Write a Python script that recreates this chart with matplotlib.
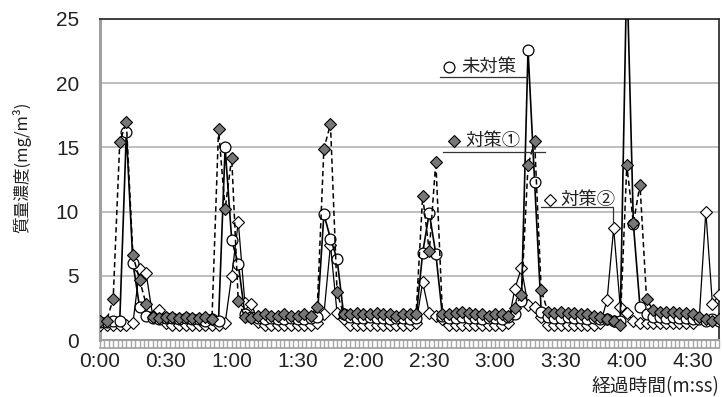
import numpy as np
import matplotlib
matplotlib.use("Agg")
import matplotlib.pyplot as plt
from matplotlib.ticker import MultipleLocator, FuncFormatter

# sampling times (seconds), one sample every 3 s
time_s = np.arange(0, 285, 3)

mitaisaku = [
    1.4, 1.4, 1.5, 1.5, 16.2, 6.0, 2.6, 1.9, 1.7, 1.6,
    1.7, 1.7, 1.6, 1.7, 1.6, 1.6, 1.5, 1.6, 1.5, 15.0,
    7.8, 5.9, 2.0, 1.8, 1.7, 1.6, 1.7, 1.6, 1.6, 1.7,
    1.6, 1.6, 1.7, 1.8, 9.8, 7.9, 6.3, 2.0, 1.8, 1.7,
    1.7, 1.8, 1.7, 1.7, 1.6, 1.7, 1.7, 1.6, 1.7, 6.8,
    9.9, 6.7, 1.9, 1.7, 1.7, 1.8, 1.7, 1.7, 1.6, 1.7,
    1.7, 1.6, 1.8, 2.0, 3.0, 22.6, 12.3, 2.2, 1.8, 1.7,
    1.7, 1.8, 1.7, 1.7, 1.6, 1.7, 1.6, 1.6, 1.5, 1.5,
    29.0, 9.0, 2.6, 2.0, 1.8, 1.8, 1.7, 1.8, 1.7, 1.7,
    1.6, 1.6, 1.5, 1.6, 1.5,
]

taisaku1 = [
    1.5, 1.5, 3.2, 15.4, 17.0, 6.6, 4.7, 2.8, 1.8, 1.7,
    1.8, 1.8, 1.7, 1.8, 1.7, 1.7, 1.8, 1.6, 16.4, 10.2,
    14.2, 3.0, 1.8, 1.7, 1.9, 2.0, 1.9, 1.9, 2.0, 1.9,
    1.9, 2.0, 1.9, 2.6, 14.9, 16.8, 3.7, 2.0, 2.0, 2.1,
    2.0, 2.0, 2.1, 2.0, 2.0, 1.9, 2.0, 2.0, 2.0, 11.2,
    6.9, 13.9, 2.0, 2.0, 2.1, 2.2, 2.1, 2.0, 2.0, 1.9,
    2.0, 2.0, 1.9, 2.5, 3.5, 13.6, 15.5, 3.9, 2.2, 2.1,
    2.2, 2.1, 2.1, 2.0, 2.0, 1.9, 1.8, 1.6, 1.5, 1.2,
    13.6, 9.1, 12.1, 3.2, 2.3, 2.2, 2.2, 2.2, 2.1, 2.1,
    2.0, 1.8, 1.6, 1.5, 1.6,
]

taisaku2 = [
    1.2, 1.2, 1.2, 1.2, 1.2, 1.3, 5.5, 5.2, 1.9, 2.3,
    1.3, 1.2, 1.2, 1.2, 1.2, 1.2, 1.2, 1.2, 1.2, 1.3,
    5.0, 9.2, 2.9, 2.8, 1.4, 1.2, 1.2, 1.2, 1.2, 1.2,
    1.2, 1.2, 1.2, 1.3, 2.0, 7.4, 2.1, 1.6, 1.2, 1.2,
    1.2, 1.2, 1.2, 1.2, 1.2, 1.2, 1.2, 1.2, 1.3, 4.5,
    2.1, 1.9, 1.6, 1.2, 1.2, 1.2, 1.2, 1.2, 1.2, 1.2,
    1.2, 1.2, 1.3, 4.0, 5.6, 2.7, 2.6, 1.8, 1.2, 1.2,
    1.2, 1.2, 1.2, 1.2, 1.2, 1.2, 1.3, 3.1, 8.7, 2.6,
    2.1, 1.5, 1.3, 1.3, 1.3, 1.3, 1.3, 1.3, 1.3, 1.3,
    1.3, 1.7, 10.0, 2.8, 3.5,
]

series_names = ["未対策", "対策①", "対策②"]
y_ticks = [0, 5, 10, 15, 20, 25]
y_label = "質量濃度(mg/m³)"
x_label = "経過時間(m:ss)"

CJK = ["Noto Sans CJK JP", "DejaVu Sans"]
NUM = ["Liberation Sans", "DejaVu Sans"]

styles = [
    dict(color="black", linewidth=1.2, marker="o", markersize=7.8,
         markerfacecolor="white", markeredgecolor="black", markeredgewidth=0.9),
    dict(color="black", linewidth=1.1, linestyle=(0, (3.5, 2.2)), marker="D",
         markersize=6.4, markerfacecolor="#777777", markeredgecolor="black",
         markeredgewidth=0.8),
    dict(color="black", linewidth=0.9, marker="D", markersize=6.4,
         markerfacecolor="white", markeredgecolor="black", markeredgewidth=0.8),
]

W, H = 723, 397
fig = plt.figure(figsize=(W / 100, H / 100), dpi=100)
L, R, T, B = 100, 719, 19, 340
ax = fig.add_axes([L / W, 1 - B / H, (R - L) / W, (B - T) / H])

ax.set_xlim(0, 282)
ax.set_ylim(0, 25)

# grid
ax.set_yticks(y_ticks)
ax.grid(axis="y", color="#b4b4b4", linewidth=1.2, zorder=0)
ax.set_axisbelow(True)

# series
ax.plot(time_s, taisaku2, zorder=3, **styles[2])
ax.plot(time_s, mitaisaku, zorder=4, **styles[0])
ax.plot(time_s, taisaku1, zorder=5, **styles[1])

# spines
ax.spines["left"].set_color("#a0a0a0")
ax.spines["left"].set_linewidth(2.2)
ax.spines["bottom"].set_color("#a0a0a0")
ax.spines["bottom"].set_linewidth(1.5)
ax.spines["top"].set_color("#333333")
ax.spines["top"].set_linewidth(1.3)
ax.spines["right"].set_color("#333333")
ax.spines["right"].set_linewidth(1.3)

# x ticks
ax.xaxis.set_major_locator(MultipleLocator(30))
ax.xaxis.set_minor_locator(MultipleLocator(2))
ax.xaxis.set_major_formatter(FuncFormatter(lambda v, p: f"{int(v)//60}:{int(v)%60:02d}"))
ax.tick_params(axis="x", which="both", direction="out", length=5.5,
               color="#a8a8a8", width=1.0)
ax.tick_params(axis="x", which="major", pad=3, labelsize=15)
ax.tick_params(axis="y", length=0, pad=15, labelsize=15)
for lab in ax.get_xticklabels() + ax.get_yticklabels():
    lab.set_family(NUM)
    lab.set_color("#222222")
# lower edge of the tick band
ax.plot([0, 1], [-0.025, -0.025], transform=ax.transAxes, color="#a0a0a0",
        linewidth=1.2, clip_on=False, zorder=1)

# axis labels
fig.text(22 / W, 1 - 167 / H, y_label, rotation=90, ha="center", va="center",
         fontsize=12, family=CJK, color="#222222")
fig.text(719 / W, 1 - 387 / H, x_label, ha="right", va="center",
         fontsize=13.5, family=CJK, color="#222222")

# in-plot series labels with leader lines
def px(xp, yp):
    return ((xp - L) / (R - L), (B - yp) / (B - T))

sym_pos = [(449, 67), (454, 141), (550, 200)]
txt_pos = [(461, 67), (465, 141), (560, 200)]
for name, st, (sx, sy), (tx, ty) in zip(series_names, styles, sym_pos, txt_pos):
    mk = {k: v for k, v in st.items() if k.startswith("marker")}
    ax.plot([px(sx, sy)[0]], [px(sx, sy)[1]], transform=ax.transAxes,
            linestyle="none", zorder=6, clip_on=False, **mk)
    ax.text(*px(tx, ty), name, transform=ax.transAxes, ha="left", va="center",
            fontsize=13.2, family=CJK, color="#222222", zorder=6)

leaders = [
    [(440, 76.7), (527, 76.7)],
    [(443, 151.7), (545, 151.7)],
    [(540.7, 207.3), (613.3, 207.3), (613.3, 223)],
]
for pts in leaders:
    xs = [px(a, b)[0] for a, b in pts]
    ys = [px(a, b)[1] for a, b in pts]
    ax.plot(xs, ys, transform=ax.transAxes, color="#333333", linewidth=0.9, zorder=6)

fig.savefig("out.png", dpi=100)
